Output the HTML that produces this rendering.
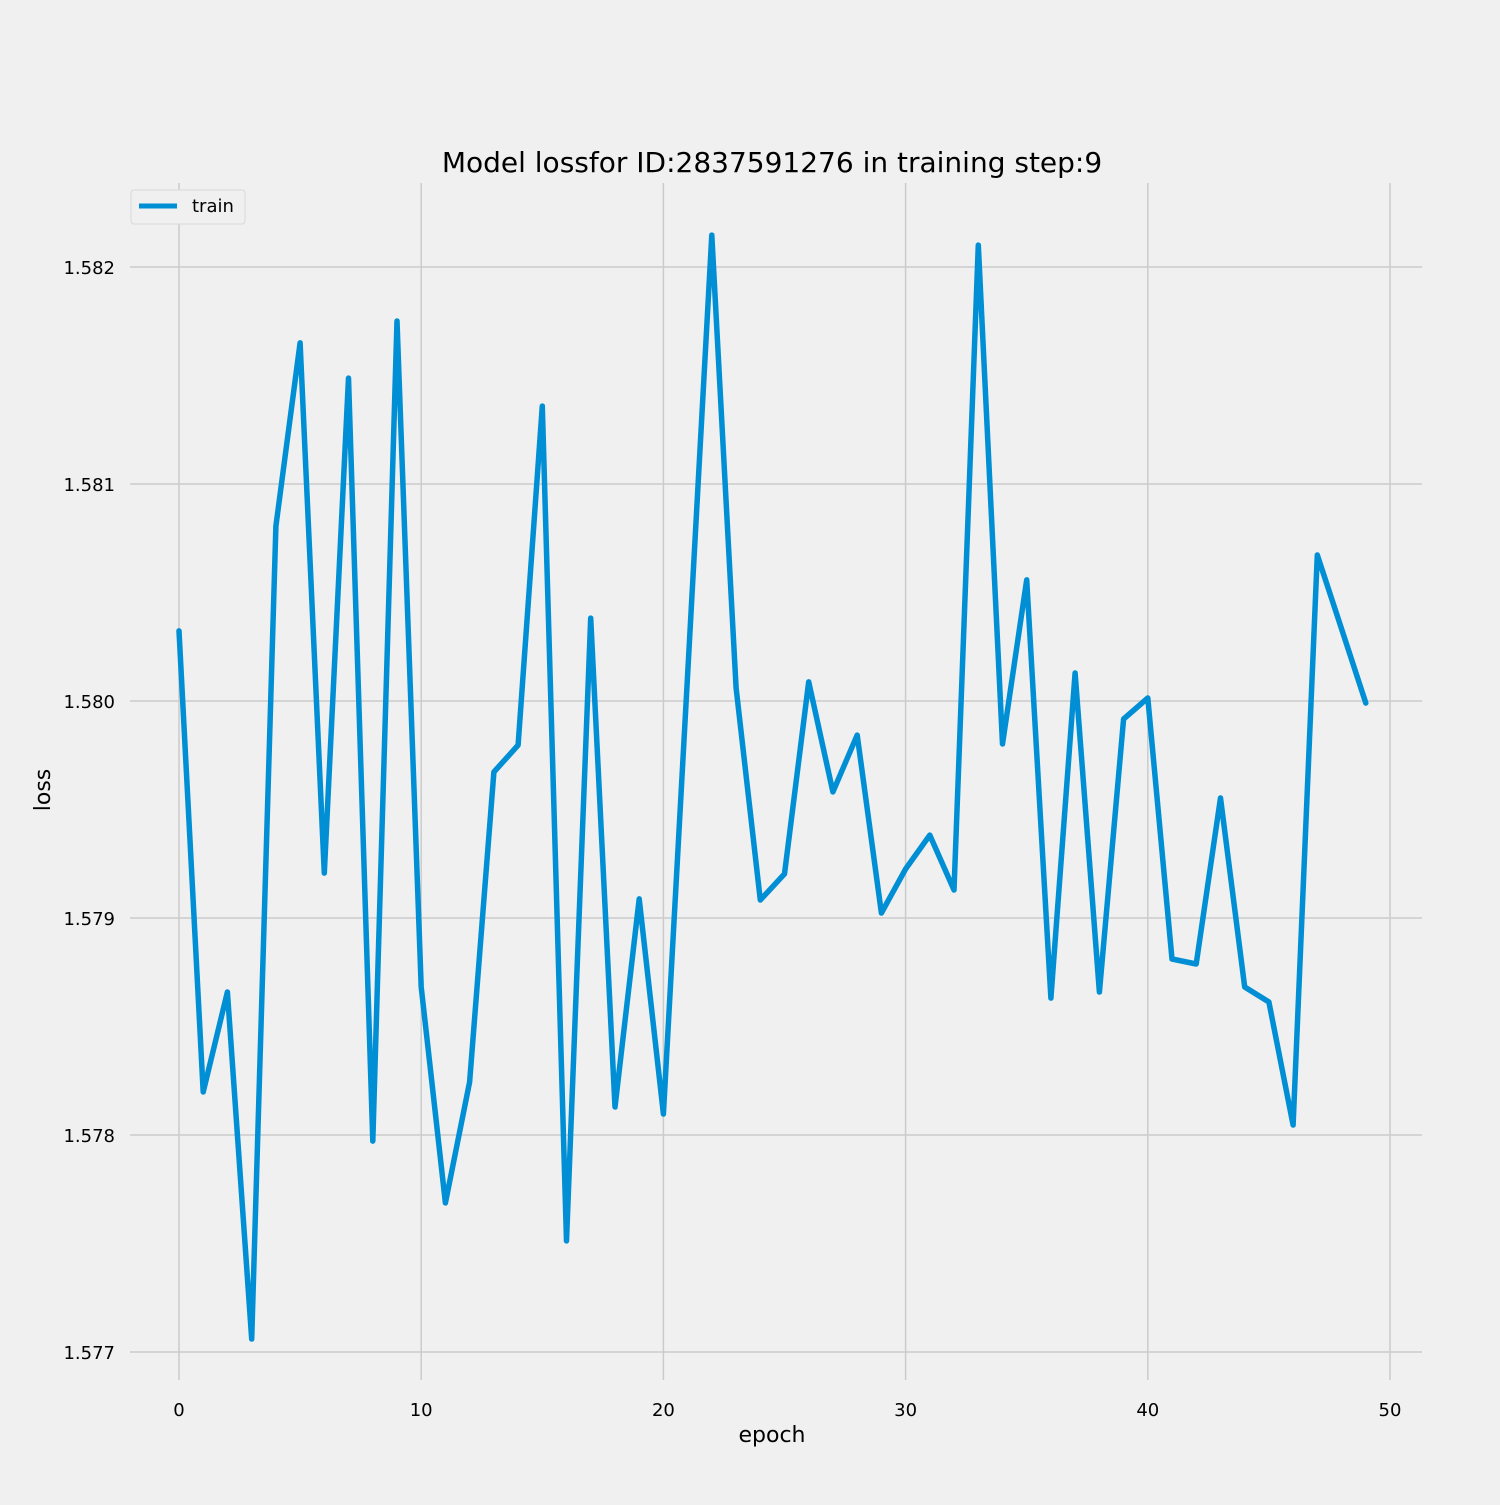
<!DOCTYPE html>
<html><head><meta charset="utf-8"><style>
html,body{margin:0;padding:0;background:#f0f0f0;}
svg text{font-family:"DejaVu Sans","Liberation Sans",sans-serif;fill:#000;}
</style></head><body>
<svg id="chart" width="1500" height="1500" viewBox="0 0 1500 1500">
<rect x="0" y="0" width="1500" height="1500" fill="#f0f0f0"/>
<g id="grid"></g>
<g id="ticks"></g>
<text x="772" y="172" font-size="28" text-anchor="middle">Model lossfor ID:2837591276 in training step:9</text>
<text x="772" y="1442" font-size="22" text-anchor="middle">epoch</text>
<text x="50" y="790" font-size="22" text-anchor="middle" transform="rotate(-90 50 790)">loss</text>
<g id="series"></g>
<g>
<rect x="131" y="190" width="114" height="34" rx="3" fill="#f0f0f0" stroke="#d8d8d8"/>
<line x1="139" y1="206" x2="177" y2="206" stroke="#008fd5" stroke-width="5"/>
<text x="192" y="212" font-size="18">train</text>
</g>
</svg>
<script>
const epochs = [0,1,2,3,4,5,6,7,8,9,10,11,12,13,14,15,16,17,18,19,20,21,22,23,24,25,26,27,28,29,30,31,32,33,34,35,36,37,38,39,40,41,42,43,44,45,46,47,48,49];
const trainLoss = [1.580323,1.578198,1.578659,1.57706,1.580806,1.58165,1.579207,1.581488,1.577972,1.581751,
1.578682,1.577687,1.578244,1.579673,1.579797,1.581359,1.577512,1.580382,1.578129,1.579088,
1.578097,1.58012,1.582147,1.58006,1.579083,1.579203,1.580088,1.579581,1.579843,1.579023,
1.579226,1.579382,1.579129,1.582101,1.579802,1.580558,1.578631,1.580129,1.578659,1.579917,
1.580014,1.578811,1.578788,1.579553,1.578682,1.578613,1.578046,1.580673,1.580332,1.579991];
const xTicks = [0,10,20,30,40,50];
const yTicks = [1.577,1.578,1.579,1.580,1.581,1.582];
const yTickLabels = ["1.577","1.578","1.579","1.580","1.581","1.582"];

const NS="http://www.w3.org/2000/svg";
const X0=130,X1=1422,Y0=183,Y1=1380;
function xs(v){return 179+(v-0)*(1390-179)/50;}
function ys(v){return 1352-(v-1.577)*(1352-267)/0.005;}
const grid=document.getElementById('grid'), ticks=document.getElementById('ticks'), series=document.getElementById('series');
function mk(tag,attrs,parent){const e=document.createElementNS(NS,tag);for(const k in attrs)e.setAttribute(k,attrs[k]);parent.appendChild(e);return e;}
xTicks.forEach(t=>{
  const l=mk('line',{x1:xs(t),x2:xs(t),y1:Y0,y2:Y1,stroke:'#cbcbcb','stroke-width':1.5},grid);
  
  
  const tx=mk('text',{x:xs(t),y:1416,'font-size':18,'text-anchor':'middle'},ticks);
  tx.textContent=String(t);
  
  
});
yTicks.forEach((t,i)=>{
  const l=mk('line',{x1:X0,x2:X1,y1:ys(t),y2:ys(t),stroke:'#cbcbcb','stroke-width':1.5},grid);
  
  
  const tx=mk('text',{x:115,y:ys(t)+7,'font-size':18,'text-anchor':'end'},ticks);
  tx.textContent=yTickLabels[i];
  
  
});
const pts=epochs.map((e,i)=>xs(e).toFixed(1)+','+ys(trainLoss[i]).toFixed(1)).join(' ');
const pl=mk('polyline',{points:pts,fill:'none',stroke:'#008fd5','stroke-width':5.5,'stroke-linejoin':'round','stroke-linecap':'round'},series);


</script>
</body></html>
